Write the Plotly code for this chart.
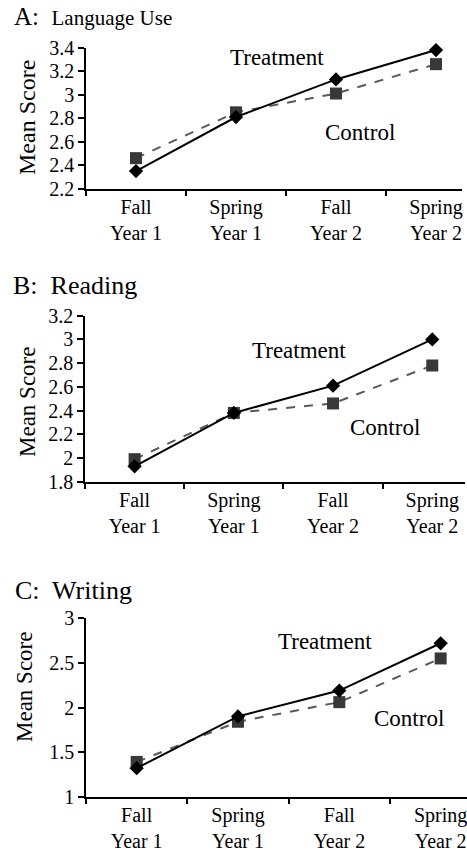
import plotly.graph_objects as go

categories = ["Fall<br>Year 1", "Spring<br>Year 1", "Fall<br>Year 2", "Spring<br>Year 2"]

lang_treatment = [2.35, 2.81, 3.13, 3.38]
lang_control = [2.46, 2.85, 3.01, 3.26]
read_treatment = [1.93, 2.38, 2.61, 3.00]
read_control = [1.99, 2.38, 2.46, 2.78]
writ_treatment = [1.32, 1.90, 2.19, 2.72]
writ_control = [1.39, 1.84, 2.06, 2.55]

lang_yticks = [2.2, 2.4, 2.6, 2.8, 3.0, 3.2, 3.4]
lang_yticktext = ["2.2", "2.4", "2.6", "2.8", "3", "3.2", "3.4"]
read_yticks = [1.8, 2.0, 2.2, 2.4, 2.6, 2.8, 3.0, 3.2]
read_yticktext = ["1.8", "2", "2.2", "2.4", "2.6", "2.8", "3", "3.2"]
writ_yticks = [1.0, 1.5, 2.0, 2.5, 3.0]
writ_yticktext = ["1", "1.5", "2", "2.5", "3"]

W, H = 467, 861
FONT = "Liberation Serif"

panels = [
    dict(t=lang_treatment, c=lang_control, yt=lang_yticks, ytt=lang_yticktext,
         yr=[2.2, 3.4], ypx=(47.7, 188.7), xpx=(86, 462), xr=[-0.5, 3.26],
         title="A:  <span style='font-size:21px'>Language Use</span>", tpos=(12, 17),
         tsize=25, ysize=24,
         tlab=(1.41, 3.32), clab=(2.24, 2.68), ytitle_y=118, ytitle_x=27),
    dict(t=read_treatment, c=read_control, yt=read_yticks, ytt=read_yticktext,
         yr=[1.8, 3.2], ypx=(315.7, 481.7), xpx=(85, 465), xr=[-0.5, 3.33],
         title="B:  Reading", tpos=(11, 286), tsize=26, ysize=23,
         tlab=(1.66, 2.91), clab=(2.52, 2.26), ytitle_y=402, ytitle_x=28),
    dict(t=writ_treatment, c=writ_control, yt=writ_yticks, ytt=writ_yticktext,
         yr=[1.0, 3.0], ypx=(618.3, 796.7), xpx=(86, 467), xr=[-0.5, 3.26],
         title="C:  Writing", tpos=(13, 590), tsize=26, ysize=23,
         tlab=(1.86, 2.74), clab=(2.69, 1.88), ytitle_y=687, ytitle_x=24),
]

fig = go.Figure()
annotations = []
layout = dict(
    template="none",
    width=W, height=H, margin=dict(l=0, r=0, t=0, b=0, pad=0, autoexpand=False),
    paper_bgcolor="white", plot_bgcolor="white", showlegend=False,
    font=dict(family=FONT, color="black"),
)

for i, p in enumerate(panels):
    n = "" if i == 0 else str(i + 1)
    xa, ya = "x" + n, "y" + n
    fig.add_trace(go.Scatter(
        x=categories, y=p["c"], xaxis=xa, yaxis=ya, mode="lines+markers",
        line=dict(color="#5a5a5a", width=2, dash="dash"),
        marker=dict(symbol="square", size=12, color="#383838"),
        cliponaxis=False,
    ))
    fig.add_trace(go.Scatter(
        x=categories, y=p["t"], xaxis=xa, yaxis=ya, mode="lines+markers",
        line=dict(color="black", width=2),
        marker=dict(symbol="diamond", size=11, color="black"),
        cliponaxis=False,
    ))
    y0, y1 = p["ypx"]
    x0, x1 = p["xpx"]
    layout["xaxis" + n] = dict(
        domain=[x0 / W, x1 / W], anchor=ya, type="category",
        categoryorder="array", categoryarray=categories,
        range=p["xr"], tickson="boundaries", ticks="outside", ticklen=6,
        tickwidth=1.5, tickcolor="black", showline=True, linecolor="black",
        linewidth=1.5, showgrid=False, zeroline=False, automargin=False,
        tickfont=dict(family=FONT, size=20, color="black"),
        ticklabeloverflow="allow",
    )
    layout["yaxis" + n] = dict(
        domain=[1 - y1 / H, 1 - y0 / H], anchor=xa, range=p["yr"],
        tickmode="array", tickvals=p["yt"], ticktext=p["ytt"],
        ticks="outside", ticklen=6, tickwidth=1.5, tickcolor="black",
        showline=True, linecolor="black", linewidth=1.5, showgrid=False,
        zeroline=False, automargin=False,
        tickfont=dict(family=FONT, size=20, color="black"),
    )
    annotations.append(dict(
        text=p["title"], xref="paper", yref="paper", x=p["tpos"][0] / W,
        y=1 - p["tpos"][1] / H, xanchor="left", yanchor="middle",
        showarrow=False, font=dict(family=FONT, size=p["tsize"], color="black"),
    ))
    annotations.append(dict(
        text="Mean Score", xref="paper", yref="paper", x=p["ytitle_x"] / W,
        y=1 - p["ytitle_y"] / H, xanchor="center", yanchor="middle",
        textangle=-90, showarrow=False,
        font=dict(family=FONT, size=p["ysize"], color="black"),
    ))
    annotations.append(dict(
        text="Treatment", xref=xa, yref=ya, x=p["tlab"][0], y=p["tlab"][1],
        showarrow=False, font=dict(family=FONT, size=23, color="black"),
    ))
    annotations.append(dict(
        text="Control", xref=xa, yref=ya, x=p["clab"][0], y=p["clab"][1],
        showarrow=False, font=dict(family=FONT, size=23, color="black"),
    ))

layout["annotations"] = annotations
fig.update_layout(**layout)
fig.write_html(
    "out.html",
    config={"displayModeBar": False},
    post_script="document.body.style.margin='0';document.body.style.overflow='hidden';",
)
